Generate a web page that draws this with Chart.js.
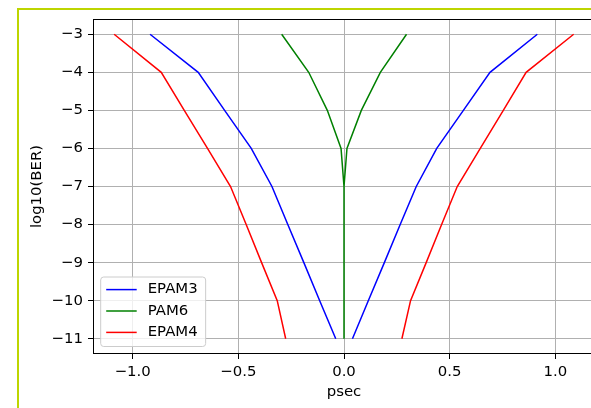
<!DOCTYPE html>
<html><head><meta charset="utf-8">
<script src="https://cdn.jsdelivr.net/npm/chart.js@4.4.0/dist/chart.umd.min.js"></script>
<style>
html,body{margin:0;padding:0;background:#fff;overflow:hidden;width:591px;height:408px;}
#frame{position:absolute;left:17px;top:8px;width:700px;height:500px;border-left:2px solid #bdd500;border-top:2px solid #bdd500;box-sizing:border-box;pointer-events:none}
#c{position:absolute;left:0;top:0;}
</style></head><body>
<canvas id="c" width="620" height="408"></canvas>
<div id="frame"></div>
<script>
// log10(BER) levels (y) and eye-opening edges in psec (x)
const berLevels = [-3, -4, -5, -6, -7, -8, -9, -10, -11];
const epam3Left  = [-0.918, -0.690, -0.565, -0.439, -0.341, -0.266, -0.190, -0.115, -0.039];
const epam3Right = [ 0.915,  0.691,  0.565,  0.439,  0.342,  0.266,  0.191,  0.115,  0.040];
const pam6Left   = [-0.295, -0.167, -0.079, -0.014, 0, 0, 0, 0, 0];
const pam6Right  = [ 0.296,  0.172,  0.082,  0.014, 0, 0, 0, 0, 0];
const epam4Left  = [-1.088, -0.865, -0.756, -0.646, -0.537, -0.463, -0.390, -0.316, -0.276];
const epam4Right = [ 1.087,  0.862,  0.754,  0.645,  0.536,  0.462,  0.389,  0.315,  0.274];
const xTicks = [-1.0, -0.5, 0.0, 0.5, 1.0];
const yTicks = [-3, -4, -5, -6, -7, -8, -9, -10, -11];

function branchPoints(left, right) {
  const pts = berLevels.map((b, i) => ({x: left[i], y: b}));
  pts.push({x: 0, y: null}); // gap between the two eye edges
  for (let i = berLevels.length - 1; i >= 0; i--) pts.push({x: right[i], y: berLevels[i]});
  return pts;
}

const FONT = '"DejaVu Sans", sans-serif';
const FS = 14.9;
const minus = s => String(s).replace('-', '\u2212');

const framePlugin = {
  id: 'mplFrame',
  afterDatasetsDraw(chart) {
    const {ctx, chartArea: a} = chart;
    ctx.save();
    ctx.strokeStyle = '#000';
    ctx.lineWidth = 1;
    ctx.strokeRect(Math.round(a.left) + 0.5, Math.round(a.top) + 0.5,
      Math.round(a.right - a.left), Math.round(a.bottom - a.top) - 1);
    ctx.restore();
  }
};

const legendPlugin = {
  id: 'mplLegend',
  afterDraw(chart) {
    const {ctx, chartArea: a} = chart;
    ctx.save();
    ctx.font = FS + 'px ' + FONT;
    const ds = chart.data.datasets;
    const maxW = Math.max(...ds.map(d => ctx.measureText(d.label).width));
    const rowH = 21.4;
    const h = 69.5;
    const w = 47 + maxW + 8;
    const x0 = a.left + 7.7;
    const y0 = a.bottom - 7.5 - h;
    const r = 3;
    ctx.beginPath();
    ctx.moveTo(x0 + r, y0);
    ctx.arcTo(x0 + w, y0, x0 + w, y0 + h, r);
    ctx.arcTo(x0 + w, y0 + h, x0, y0 + h, r);
    ctx.arcTo(x0, y0 + h, x0, y0, r);
    ctx.arcTo(x0, y0, x0 + w, y0, r);
    ctx.closePath();
    ctx.fillStyle = 'rgba(255,255,255,0.8)';
    ctx.fill();
    ctx.strokeStyle = '#cccccc';
    ctx.lineWidth = 1;
    ctx.stroke();
    ds.forEach((d, i) => {
      const cy = y0 + 12.6 + i * rowH;
      ctx.beginPath();
      ctx.strokeStyle = d.borderColor;
      ctx.lineWidth = 1.5;
      ctx.moveTo(x0 + 5.5, cy);
      ctx.lineTo(x0 + 36, cy);
      ctx.stroke();
      ctx.fillStyle = '#000';
      ctx.textBaseline = 'middle';
      ctx.textAlign = 'left';
      ctx.fillText(d.label, x0 + 47, cy);
    });
    ctx.restore();
  }
};

new Chart(document.getElementById('c'), {
  type: 'line',
  data: {
    datasets: [
      {label: 'EPAM3', data: branchPoints(epam3Left, epam3Right), borderColor: '#0000ff'},
      {label: 'PAM6',  data: branchPoints(pam6Left, pam6Right),   borderColor: '#008000'},
      {label: 'EPAM4', data: branchPoints(epam4Left, epam4Right), borderColor: '#ff0000'}
    ].map(d => Object.assign(d, {borderWidth: 1.5, pointRadius: 0, tension: 0, fill: false, spanGaps: false}))
  },
  options: {
    responsive: false,
    animation: false,
    events: [],
    layout: {padding: {left: 0, top: 19, right: 25, bottom: 0}},
    plugins: {legend: {display: false}, tooltip: {enabled: false}},
    scales: {
      x: {
        type: 'linear', min: -1.188, max: 1.188,
        afterFit(s) { s.height = 54; },
        afterBuildTicks(s) { s.ticks = xTicks.map(v => ({value: v})); },
        ticks: {
          includeBounds: false, color: '#000', padding: 4, maxRotation: 0,
          font: {family: FONT, size: FS},
          callback: v => minus(Number(v).toFixed(1))
        },
        grid: {color: '#b0b0b0', lineWidth: 1, tickLength: 5, tickColor: '#000', drawTicks: true},
        border: {display: false},
        title: {display: true, text: 'psec', color: '#000', font: {family: FONT, size: FS}, padding: {top: 0, bottom: 7}}
      },
      y: {
        type: 'linear', min: -11.4, max: -2.6,
        afterFit(s) { s.width = 93; },
        afterBuildTicks(s) { s.ticks = yTicks.map(v => ({value: v})); },
        ticks: {
          includeBounds: false, color: '#000', padding: 5,
          font: {family: FONT, size: FS},
          callback: v => minus(v)
        },
        grid: {color: '#b0b0b0', lineWidth: 1, tickLength: 5, tickColor: '#000', drawTicks: true},
        border: {display: false},
        title: {display: true, text: 'log10(BER)', color: '#000', font: {family: FONT, size: FS}, padding: {top: 28, bottom: 0}}
      }
    }
  },
  plugins: [framePlugin, legendPlugin]
});
</script>
</body></html>
